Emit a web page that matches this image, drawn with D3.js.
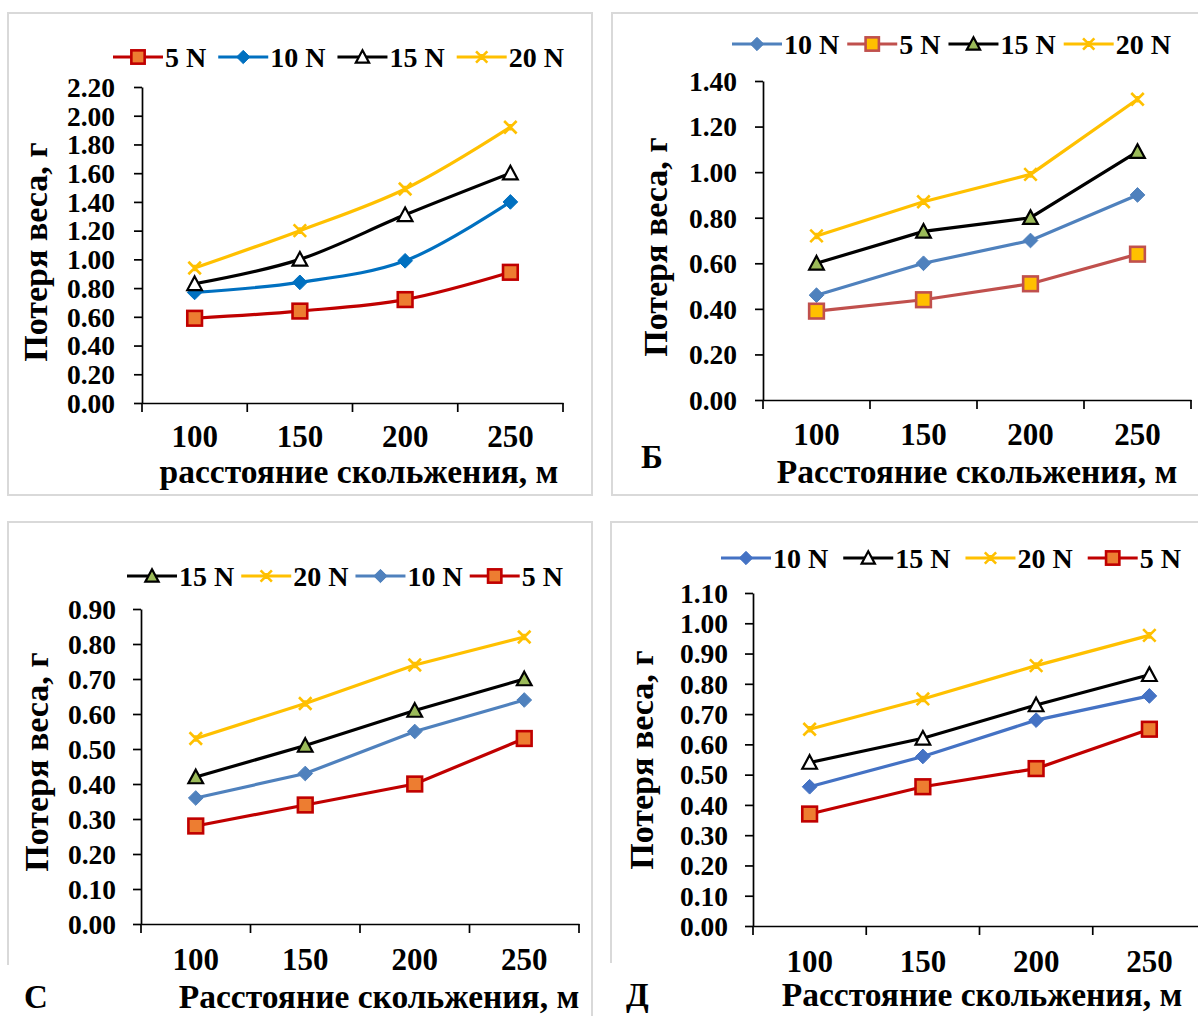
<!DOCTYPE html>
<html>
<head>
<meta charset="utf-8">
<script src="https://cdn.jsdelivr.net/npm/d3@7"></script>
<style>
body{margin:0;background:#fff}
text{font-family:"Liberation Serif","Times New Roman",serif;font-weight:bold;fill:#000}
</style>
</head>
<body>
<svg id="main_svg" width="1198" height="1016"></svg>
<script>
let distances = ["100","150","200","250"]

// panel A (top left)
let a_5N  = [0.59,0.64,0.72,0.91]
let a_10N = [0.77,0.84,0.99,1.40]
let a_15N = [0.83,1.00,1.31,1.60]
let a_20N = [0.94,1.20,1.49,1.92]

// panel Б (top right)
let b_10N = [0.46,0.60,0.70,0.90]
let b_5N  = [0.39,0.44,0.51,0.64]
let b_15N = [0.60,0.74,0.80,1.09]
let b_20N = [0.72,0.87,0.99,1.32]

// panel С (bottom left)
let c_15N = [0.42,0.51,0.61,0.70]
let c_20N = [0.53,0.63,0.74,0.82]
let c_10N = [0.36,0.43,0.55,0.64]
let c_5N  = [0.28,0.34,0.40,0.53]

// panel Д (bottom right)
let d_10N = [0.46,0.56,0.68,0.76]
let d_15N = [0.54,0.62,0.73,0.83]
let d_20N = [0.65,0.75,0.86,0.96]
let d_5N  = [0.37,0.46,0.52,0.65]

let y_title = "Потеря веса, г"

let panels = [
    {box:[8,13,592,495], cut:null, x0:142, x1:563, yTop:87, yBot:403, max:2.2, step:0.2, smooth:true,
     legendX:113, legendY:57, legendGap:12, yLabelEnd:115, xLabelY:447, yTitleX:35, yTitleY:252,
     xTitle:"расстояние скольжения, м", xTitleX:359, xTitleY:483, letter:null,
     series:[
        {name:"5 N", values:a_5N, color:"#c00000", marker:"square", fill:"#ed7d31"},
        {name:"10 N", values:a_10N, color:"#0070c0", marker:"diamond", fill:"#0070c0"},
        {name:"15 N", values:a_15N, color:"#000000", marker:"triangle", fill:"#ffffff"},
        {name:"20 N", values:a_20N, color:"#ffc000", marker:"star", fill:"#ffc000"}]},
    {box:[612,13,1200,495], cut:null, x0:763, x1:1191, yTop:81, yBot:400, max:1.4, step:0.2, smooth:false,
     legendX:732, legendY:44, legendGap:8, yLabelEnd:737, xLabelY:445, yTitleX:655, yTitleY:247,
     xTitle:"Расстояние скольжения, м", xTitleX:977, xTitleY:483, letter:"Б", letterX:641, letterY:468,
     series:[
        {name:"10 N", values:b_10N, color:"#4f81bd", marker:"diamond", fill:"#4f81bd"},
        {name:"5 N", values:b_5N, color:"#c0504d", marker:"square", fill:"#ffc000"},
        {name:"15 N", values:b_15N, color:"#000000", marker:"triangle", fill:"#9bbb59"},
        {name:"20 N", values:b_20N, color:"#ffc000", marker:"star", fill:"#ffc000"}]},
    {box:[8,522,592,1030], cut:965, x0:141, x1:579, yTop:609, yBot:924, max:0.9, step:0.1, smooth:false,
     legendX:127, legendY:576, legendGap:7, yLabelEnd:116, xLabelY:970, yTitleX:36, yTitleY:762,
     xTitle:"Расстояние скольжения, м", xTitleX:379, xTitleY:1008, letter:"С", letterX:24, letterY:1008,
     series:[
        {name:"15 N", values:c_15N, color:"#000000", marker:"triangle", fill:"#9bbb59"},
        {name:"20 N", values:c_20N, color:"#ffc000", marker:"star", fill:"#ffc000"},
        {name:"10 N", values:c_10N, color:"#4f81bd", marker:"diamond", fill:"#4f81bd"},
        {name:"5 N", values:c_5N, color:"#c00000", marker:"square", fill:"#ed7d31"}]},
    {box:[611,522,1200,1030], cut:963, x0:753, x1:1206, yTop:593, yBot:926, max:1.1, step:0.1, smooth:false,
     legendX:721, legendY:558, legendGap:15, yLabelEnd:728, xLabelY:972, yTitleX:641, yTitleY:760,
     xTitle:"Расстояние скольжения, м", xTitleX:982, xTitleY:1006, letter:"Д", letterX:626, letterY:1006,
     series:[
        {name:"10 N", values:d_10N, color:"#4472c4", marker:"diamond", fill:"#4472c4"},
        {name:"15 N", values:d_15N, color:"#000000", marker:"triangle", fill:"#ffffff"},
        {name:"20 N", values:d_20N, color:"#ffc000", marker:"star", fill:"#ffc000"},
        {name:"5 N", values:d_5N, color:"#c00000", marker:"square", fill:"#ed7d31"}]}
]

let svg = d3.select("#main_svg")
svg.append("rect").attr("width",1198).attr("height",1016).attr("fill","#fff")

function draw_marker(g, type, x, y, s, k){
    let r = 7*k
    if(type=="square"){
        g.append("rect").attr("x",x-r).attr("y",y-r).attr("width",2*r).attr("height",2*r)
            .attr("fill",s.fill).attr("stroke",s.color).attr("stroke-width",2.6)
    }
    if(type=="diamond"){
        g.append("path").attr("d","M"+x+","+(y-r)+"L"+(x+r)+","+y+"L"+x+","+(y+r)+"L"+(x-r)+","+y+"Z")
            .attr("fill",s.fill).attr("stroke",s.color).attr("stroke-width",1)
    }
    if(type=="triangle"){
        g.append("path").attr("d","M"+x+","+(y-r)+"L"+(x+r)+","+(y+r*0.85)+"L"+(x-r)+","+(y+r*0.85)+"Z")
            .attr("fill",s.fill).attr("stroke",s.color).attr("stroke-width",2.2)
    }
    if(type=="star"){
        // excel star: an x with a short upright stroke
        let q = r*0.85
        g.append("path").attr("d","M"+(x-q)+","+(y-q)+"L"+(x+q)+","+(y+q)+"M"+(x+q)+","+(y-q)+"L"+(x-q)+","+(y+q)
            +"M"+x+","+(y-r*0.45)+"L"+x+","+(y+r*0.45))
            .attr("fill","none").attr("stroke",s.color).attr("stroke-width",2.6)
    }
}

function draw_panel(p){
    let g = svg.append("g")
    // light frame around each panel
    let b = p.box
    let frame = "M"+b[0]+","+(p.cut ? p.cut : b[3])+"L"+b[0]+","+b[1]+"L"+b[2]+","+b[1]+"L"+b[2]+","+b[3]
    if(!p.cut) frame += "Z"
    g.append("path").attr("d",frame).attr("fill","none").attr("stroke","#d9d9d9").attr("stroke-width",2)

    let x = d3.scaleBand().domain(distances).range([p.x0,p.x1]).padding(0)
    let y = d3.scaleLinear().domain([0,p.max]).range([p.yBot,p.yTop])

    let ticks = d3.range(0, p.max+p.step/2, p.step)
    let yAxis = d3.axisLeft(y).tickValues(ticks).tickFormat(d3.format(".2f"))
        .tickSize(8).tickSizeOuter(0).tickPadding(p.x0-p.yLabelEnd-8)
    let ya = g.append("g").attr("transform","translate("+p.x0+",0)").call(yAxis)
    ya.selectAll("text").style("font-size","27.5px").attr("dy","0.34em")
    ya.selectAll("line,path").attr("stroke","#000").attr("stroke-width",1.7)

    let xAxis = d3.axisBottom(x).tickSize(0).tickSizeOuter(0).tickPadding(0)
    let xa = g.append("g").attr("transform","translate(0,"+p.yBot+")").call(xAxis)
    xa.selectAll("text").style("font-size","31px").attr("y",p.xLabelY-p.yBot).attr("dy",0)
    xa.select("path").attr("stroke","#000").attr("stroke-width",1.7)
    // tick marks between categories
    let edges = distances.map(d => x(d)).concat([p.x1])
    g.selectAll(null).data(edges).enter().append("line")
        .attr("x1",d=>d).attr("x2",d=>d).attr("y1",p.yBot).attr("y2",p.yBot+9)
        .attr("stroke","#000").attr("stroke-width",1.7)

    let line = d3.line()
        .x((d,i) => x(distances[i]) + x.bandwidth()/2)
        .y(d => y(d))
    if(p.smooth) line.curve(d3.curveCatmullRom.alpha(0.5))

    p.series.forEach(s => {
        g.append("path").datum(s.values).attr("d",line)
            .attr("fill","none").attr("stroke",s.color).attr("stroke-width",3.2)
    })
    p.series.forEach(s => {
        s.values.forEach((v,i) => draw_marker(g, s.marker, x(distances[i])+x.bandwidth()/2, y(v), s, 1.05))
    })

    // legend
    let lx = p.legendX
    p.series.forEach(s => {
        g.append("line").attr("x1",lx).attr("x2",lx+50).attr("y1",p.legendY).attr("y2",p.legendY)
            .attr("stroke",s.color).attr("stroke-width",3.2)
        draw_marker(g, s.marker, lx+25, p.legendY, s, 0.95)
        let t = g.append("text").attr("x",lx+52).attr("y",p.legendY).attr("dy","0.35em")
            .style("font-size","28px").text(s.name)
        lx = lx + 52 + t.node().getComputedTextLength() + p.legendGap
    })

    // titles
    g.append("text").attr("x",p.xTitleX).attr("y",p.xTitleY).attr("text-anchor","middle")
        .style("font-size","33.5px").text(p.xTitle)
    g.append("text").attr("transform","translate("+p.yTitleX+","+p.yTitleY+") rotate(-90)")
        .attr("text-anchor","middle").attr("dy","0.34em").style("font-size","34px").text(y_title)
    if(p.letter){
        g.append("text").attr("x",p.letterX).attr("y",p.letterY).style("font-size","33px").text(p.letter)
    }
}

panels.forEach(p => draw_panel(p))
</script>
</body>
</html>
